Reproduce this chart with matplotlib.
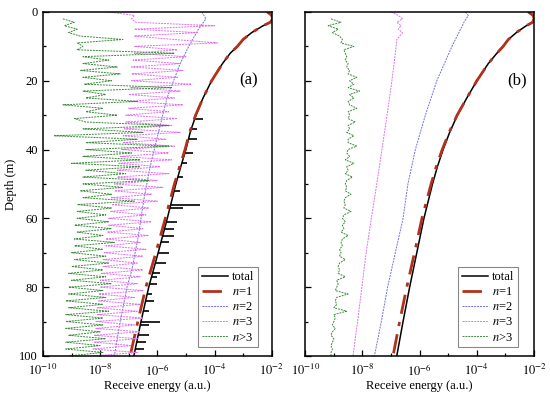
import numpy as np
import matplotlib
matplotlib.use("Agg")
import matplotlib.pyplot as plt
from matplotlib.ticker import FixedLocator, NullFormatter

plt.rcParams["font.family"] = ["Liberation Serif", "DejaVu Serif"]
plt.rcParams["mathtext.fontset"] = "stix"
plt.rcParams["font.size"] = 9

# ---- data (log10 of received energy) ----
# smooth curves, sampled at these depths (m)
node_depth = [0, 1, 2, 3, 4, 5, 6, 8, 10, 12, 15, 20, 25, 30, 35, 40, 45, 50, 55, 60, 70, 80, 90, 100]
total_a = [-2.15, -2.0, -1.97, -2.05, -2.3, -2.5, -2.7, -3.0, -3.2, -3.45, -3.72, -4.1, -4.4, -4.65,
           -4.85, -5.0, -5.18, -5.35, -5.5, -5.65, -5.97, -6.3, -6.57, -6.82]
n1_a = [-2.15, -2.0, -1.97, -2.05, -2.3, -2.5, -2.7, -3.0, -3.2, -3.45, -3.72, -4.1, -4.4, -4.66,
        -4.87, -5.03, -5.22, -5.4, -5.56, -5.72, -6.05, -6.4, -6.68, -6.95]
total_b = [-2.2, -2.03, -2.0, -2.05, -2.27, -2.45, -2.62, -2.9, -3.08, -3.3, -3.6, -4.0, -4.35, -4.68,
           -4.95, -5.18, -5.38, -5.55, -5.7, -5.85, -6.1, -6.35, -6.58, -6.8]
n1_b = [-2.2, -2.03, -2.0, -2.05, -2.27, -2.45, -2.62, -2.9, -3.08, -3.3, -3.6, -4.0, -4.35, -4.69,
        -4.97, -5.21, -5.42, -5.6, -5.76, -5.92, -6.18, -6.45, -6.7, -6.93]

n2_a_depth = [0, 2, 5, 10, 15, 20, 25, 35, 45, 55, 65, 75, 80, 90, 100]
n2_a = [-4.44, -4.3, -4.56, -4.9, -5.2, -5.43, -5.66, -5.96, -6.25, -6.48, -6.66, -6.89, -7.06, -7.3, -7.5]
n2_b_depth = [0, 1, 3, 10, 20, 30, 40, 50, 60, 70, 80, 90, 100]
n2_b = [-4.4, -4.3, -4.45, -4.87, -5.4, -5.8, -6.15, -6.41, -6.58, -6.85, -7.12, -7.34, -7.58]
n3_b_depth = [0, 1, 2, 3, 4, 5, 6, 8, 10, 20, 30, 40, 50, 60, 70, 80, 90, 100]
n3_b = [-7.0, -6.75, -6.6, -6.8, -6.65, -6.75, -6.6, -6.8, -6.82, -6.97, -7.14, -7.32, -7.5, -7.69,
        -7.87, -8.02, -8.17, -8.33]

# noisy series, one value per metre (0..100 m)
depth_1m = np.arange(0, 101)
n3_a = [-7.7, -6.8, -6.9, -6.75, -4.0, -6.8, -4.6, -6.8, -5.4, -3.9,
        -6.8, -5.3, -6.8, -5.0, -6.85, -5.2, -6.9, -5.1, -6.9, -5.3,
        -6.9, -4.8, -6.95, -5.2, -7.0, -5.4, -7.0, -5.1, -7.0, -5.6,
        -7.1, -5.3, -7.1, -5.5, -7.15, -5.2, -7.2, -5.7, -7.2, -5.4,
        -7.25, -5.6, -7.3, -5.5, -7.35, -5.9, -7.4, -5.6, -7.4, -6.0,
        -7.5, -5.8, -7.5, -6.2, -7.6, -6.0, -7.6, -6.3, -7.65, -6.4,
        -7.7, -6.2, -7.7, -6.5, -7.75, -6.3, -7.8, -6.6, -7.8, -6.4,
        -7.85, -6.5, -7.9, -6.7, -7.9, -6.5, -7.95, -6.6, -8.0, -6.7,
        -8.0, -6.5, -8.05, -6.8, -8.05, -6.6, -8.1, -6.7, -8.1, -6.5,
        -8.15, -6.8, -8.15, -6.6, -8.2, -6.7, -8.2, -6.9, -8.25, -6.7,
        -8.25]
nx_a = [np.nan, np.nan, -9.3, -8.9, -9.25, -8.8, -9.1, -8.7, -7.2, -8.8,
        -8.6, -8.8, -5.4, -8.6, -7.7, -8.6, -7.4, -8.7, -7.3, -8.6,
        -7.6, -8.55, -5.5, -8.6, -7.8, -8.5, -6.7, -9.3, -7.9, -8.5,
        -7.4, -8.9, -8.5, -5.6, -8.6, -6.5, -9.6, -6.7, -8.5, -5.6,
        -8.5, -6.9, -8.6, -6.6, -9.0, -6.6, -8.5, -7.1, -8.6, -6.3,
        -8.6, -7.2, -8.7, -7.6, -8.6, -6.8, -8.8, -7.6, -8.8, -7.8,
        -8.8, -7.7, -8.9, -7.6, -8.8, -7.9, -8.9, -7.5, -8.9, -7.9,
        -9.0, -7.8, -8.9, -7.7, -9.0, -7.9, -9.1, -7.8, -9.0, -7.6,
        -9.1, -7.9, -9.1, -7.8, -9.2, -7.9, -9.1, -7.7, -9.2, -7.9,
        -9.2, -7.9, -9.2, -8.0, -9.1, -7.8, -9.2, -8.0, -9.2, -7.9,
        -9.1]
nx_b = [np.nan, np.nan, -9.1, -8.75, -9.2, -8.85, -9.05, -8.8, -8.7, -8.75,
        -8.3, -8.65, -8.6, -8.55, -8.6, -8.5, -8.55, -8.45, -8.5, -8.2,
        -8.45, -8.3, -8.5, -8.1, -8.45, -8.3, -8.5, -8.45, -8.2, -8.5,
        -8.45, -8.5, -8.25, -8.5, -8.45, -8.55, -8.3, -8.5, -8.5, -8.2,
        -8.5, -8.55, -8.45, -8.6, -8.3, -8.55, -8.5, -8.6, -8.35, -8.55,
        -8.6, -8.55, -8.6, -8.4, -8.6, -8.65, -8.6, -8.65, -8.4, -8.65,
        -8.7, -8.6, -8.7, -8.65, -8.75, -8.5, -8.7, -8.75, -8.7, -8.8,
        -8.75, -8.8, -8.6, -8.8, -8.85, -8.8, -8.85, -8.6, -8.9, -8.85,
        -8.9, -8.95, -8.5, -8.9, -8.95, -8.9, -9.0, -8.55, -9.0, -8.95,
        -9.0, -9.05, -8.95, -9.05, -9.1, -9.0, -9.05, -9.1, -9.05, -9.1,
        -9.1]

# spikes of the total energy in panel (a)
spike_depth = [31, 34, 37, 41, 44, 48, 52, 56, 57, 61, 63, 65, 67, 70, 73, 76, 77, 79, 82, 84, 87, 90, 91, 94, 96, 98]
spike_from = [-4.69, -4.81, -4.91, -5.04, -5.14, -5.28, -5.41, -5.53, -5.56, -5.68, -5.75, -5.81, -5.87,
              -5.97, -6.07, -6.17, -6.2, -6.27, -6.35, -6.41, -6.49, -6.57, -6.6, -6.67, -6.72, -6.77]
spike_to = [-4.4, -4.6, -4.6, -4.75, -4.95, -5.1, -5.2, -4.5, -5.1, -5.3, -5.4, -5.4, -5.6,
            -5.6, -5.7, -5.9, -6.0, -6.0, -6.2, -6.1, -6.3, -5.9, -6.3, -6.3, -6.4, -6.45]

red = "#b0321c"
blue = "#6e6ef0"
magenta = "#e070f0"
green = "#3c8a3c"


def e(v):
    return 10.0 ** np.asarray(v, dtype=float)


fig = plt.figure(figsize=(5.5, 3.99), dpi=100)
ax_a = fig.add_axes([0.078, 0.108, 0.416, 0.862])
ax_b = fig.add_axes([0.555, 0.108, 0.416, 0.862])

# panel (a)
ax_a.plot(e(total_a), node_depth, color="black", lw=1.1, label="total")
ax_a.hlines(spike_depth, e(spike_from), e(spike_to), color="black", lw=1.2)
ax_a.plot(e(n1_a), node_depth, color=red, lw=2.0, dashes=(7, 3, 1.5, 3), label=r"$n$=1")
ax_a.plot(e(n2_a), n2_a_depth, color=blue, lw=0.7, dashes=(2, 1), label=r"$n$=2")
ax_a.plot(e(n3_a), depth_1m, color=magenta, lw=0.7, dashes=(2, 1), label=r"$n$=3")
ax_a.plot(e(nx_a), depth_1m, color=green, lw=0.7, dashes=(2, 1), label=r"$n$>3")

# panel (b)
ax_b.plot(e(total_b), node_depth, color="black", lw=1.1, label="total")
ax_b.plot(e(n1_b), node_depth, color=red, lw=2.0, dashes=(7, 3, 1.5, 3), label=r"$n$=1")
ax_b.plot(e(n2_b), n2_b_depth, color=blue, lw=0.7, dashes=(2, 1), label=r"$n$=2")
ax_b.plot(e(n3_b), n3_b_depth, color=magenta, lw=0.7, dashes=(2, 1), label=r"$n$=3")
ax_b.plot(e(nx_b), depth_1m, color=green, lw=0.7, dashes=(2, 1), label=r"$n$>3")

major = [1e-10, 1e-8, 1e-6, 1e-4, 1e-2]
major_lbl = [r"$10^{-10}$", r"$10^{-8}$", r"$10^{-6}$", r"$10^{-4}$", r"$10^{-2}$"]
for ax, tag, tx, lx in [(ax_a, "(a)", 0.9, 0.94), (ax_b, "(b)", 0.925, 0.93)]:
    ax.set_xscale("log")
    ax.set_xlim(1e-10, 1e-2)
    ax.set_ylim(100, 0)
    ax.xaxis.set_major_locator(FixedLocator(major))
    ax.xaxis.set_minor_locator(FixedLocator([1e-9, 1e-7, 1e-5, 1e-3]))
    ax.xaxis.set_minor_formatter(NullFormatter())
    ax.set_xticklabels(major_lbl)
    ax.set_yticks([0, 20, 40, 60, 80, 100])
    ax.set_yticks([10, 30, 50, 70, 90], minor=True)
    ax.tick_params(which="both", direction="in", top=False, right=False, labelsize=9, width=0.9)
    ax.tick_params(which="major", length=4)
    ax.tick_params(which="minor", length=2)
    ax.tick_params(axis="x", which="major", pad=5)
    for s in ax.spines.values():
        s.set_linewidth(1.1)
    ax.set_xlabel("Receive energy (a.u.)", fontsize=9, labelpad=1)
    ax.text(tx, 0.8, tag, transform=ax.transAxes, fontsize=12, ha="center", va="center")
    leg = ax.legend(loc="lower right", bbox_to_anchor=(lx, 0.025), borderaxespad=0, fontsize=9,
                    fancybox=False, edgecolor="#888888", framealpha=1,
                    handlelength=2.1, handletextpad=0.3, labelspacing=0.25, borderpad=0.3)
    leg.get_frame().set_linewidth(0.8)

ax_a.set_ylabel("Depth (m)", fontsize=9, labelpad=2)
ax_b.tick_params(labelleft=False)

fig.savefig("out.png", dpi=100)
